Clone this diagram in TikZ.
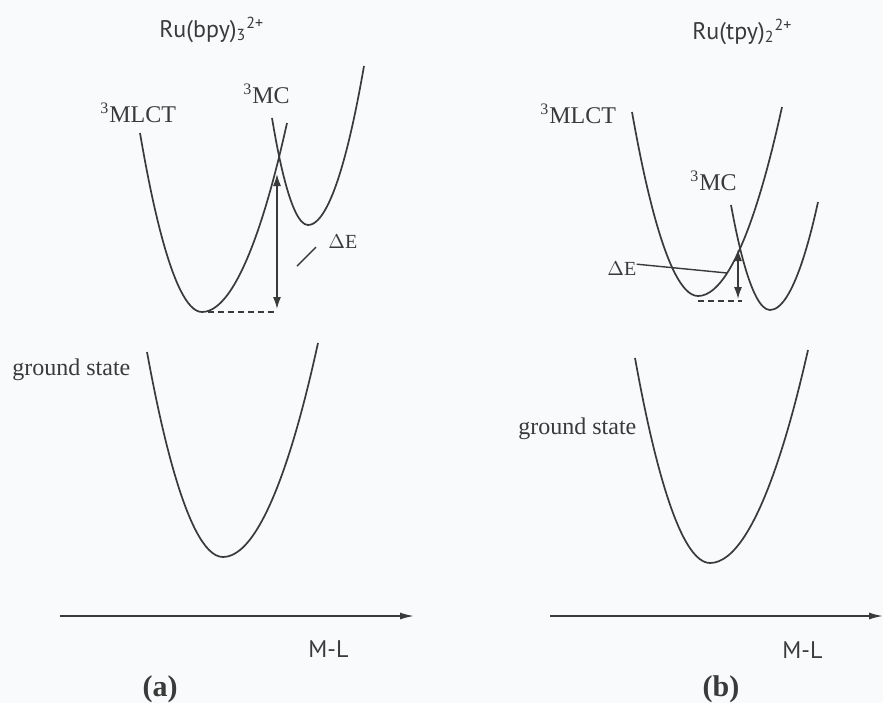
\documentclass[tikz,border=0pt]{standalone}
\usepackage{fontspec}
\setmainfont{Liberation Serif}
\newfontfamily\rufont{PT Sans}
\usetikzlibrary{arrows.meta}
\definecolor{ink}{HTML}{3A3A3A}
\definecolor{bg}{HTML}{F8FAFB}
\tikzset{
  curve/.style={draw=ink, line width=0.85pt},
  lbl/.style={inner sep=0pt, text=ink, font=\fontsize{12}{14}\selectfont},
  small/.style={inner sep=0pt, text=ink, font=\fontsize{10}{12}\selectfont},
  ttl/.style={inner sep=0pt, text=ink, font=\rufont\fontsize{12}{14}\selectfont},
  panel/.style={inner sep=0pt, text=ink, font=\bfseries\fontsize{15}{18}\selectfont},
  dearrow/.style={draw=ink, line width=0.8pt, {Latex[length=6pt,width=4pt]}-{Latex[length=6pt,width=4pt]}},
  axis/.style={draw=ink, line width=0.8pt, -{Latex[length=7pt,width=3.5pt]}},
  level/.style={draw=ink, line width=0.8pt, dash pattern=on 3pt off 2pt},
  leader/.style={draw=ink, line width=0.7pt}
}
\begin{document}
\begin{tikzpicture}[x=0.5pt,y=-0.5pt]
\fill[bg] (0,0) rectangle (883,703);
\useasboundingbox (0,0) rectangle (883,703);

% ---------- panel (a) ----------
\node[ttl, anchor=base west] (titleA) at (159,37) {Ru(bpy)\textsubscript{3}\textsuperscript{2+}};
\node[lbl, anchor=base west] (mlctA) at (100,122) {\textsuperscript{3}MLCT};
\node[lbl, anchor=base west] (mcA) at (243,103) {\textsuperscript{3}MC};
\node[lbl, anchor=base west] (gsA) at (12,375) {ground state};
\node[small, anchor=base west] (dEA) at (328,248) {$\Delta$E};

\draw[curve] (140,133) parabola bend (202,312) (287,123);
\draw[curve] (272,118) parabola bend (308,225) (364,66);
\draw[curve] (147,352) parabola bend (223,557) (318,343);

\coordinate (aTop) at (277,174);
\coordinate (aBot) at (277,309);
\coordinate (aMin) at (208,312);
\coordinate (aLvl) at (277,312);
\draw[dearrow] (aTop) -- (aBot);
\draw[level] (aMin) -- (aLvl);
\coordinate (aL1) at (316,247);
\coordinate (aL2) at (297,266);
\draw[leader] (aL1) -- (aL2);

\coordinate (axA0) at (60,616);
\coordinate (axA1) at (414,616);
\draw[axis] (axA0) -- (axA1);
\node[ttl, anchor=base west] (mlA) at (308,657) {M-L};
\node[panel] (pa) at (160,689) {(a)};

% ---------- panel (b) ----------
\node[ttl, anchor=base west] (titleB) at (692,39) {Ru(tpy)\textsubscript{2}\textsuperscript{2+}};
\node[lbl, anchor=base west] (mlctB) at (540,123) {\textsuperscript{3}MLCT};
\node[lbl, anchor=base west] (mcB) at (690,190) {\textsuperscript{3}MC};
\node[lbl, anchor=base west] (gsB) at (518,434) {ground state};
\node[small, anchor=base west] (dEB) at (607,275) {$\Delta$E};

\draw[curve] (632,112) parabola bend (698,296) (782,107);
\draw[curve] (731,205) parabola bend (770,310) (818,202);
\draw[curve] (635,358) parabola bend (710,563) (808,350);

\coordinate (bTop) at (738,249);
\coordinate (bBot) at (738,299);
\coordinate (bMin) at (698,301);
\coordinate (bLvl) at (742,301);
\draw[dearrow] (bTop) -- (bBot);
\draw[level] (bMin) -- (bLvl);
\coordinate (bL2) at (727,273);
\draw[leader] (dEB.east) ++(0,-4) -- (bL2);

\coordinate (axB0) at (550,616);
\coordinate (axB1) at (883,616);
\draw[axis] (axB0) -- (axB1);
\node[ttl, anchor=base west] (mlB) at (782,658) {M-L};
\node[panel] (pb) at (721,689) {(b)};
\end{tikzpicture}
\end{document}
